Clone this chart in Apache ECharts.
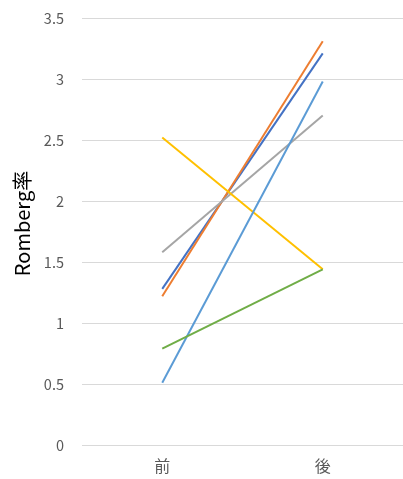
<!DOCTYPE html>
<html>
<head>
<meta charset="utf-8">
<script src="https://cdn.jsdelivr.net/npm/echarts@6/dist/echarts.min.js"></script>
<style>
  html, body { margin: 0; padding: 0; background: #fff; }
  #chart { width: 403px; height: 479px; }
</style>
</head>
<body>
<div id="chart"></div>
<script>
// Before / after Romberg ratio per subject
const categories = ['前', '後'];
const subjectA = [1.28, 3.21];
const subjectB = [1.22, 3.31];
const subjectC = [1.58, 2.70];
const subjectD = [2.52, 1.44];
const subjectE = [0.51, 2.98];
const subjectF = [0.79, 1.44];

const yTicks = { min: 0, max: 3.5, interval: 0.5 };

const seriesList = [
  { data: subjectA, color: '#4472C4' },
  { data: subjectB, color: '#ED7D31' },
  { data: subjectC, color: '#A5A5A5' },
  { data: subjectD, color: '#FFC000' },
  { data: subjectE, color: '#5B9BD5' },
  { data: subjectF, color: '#70AD47' }
];

const font = '"Noto Sans CJK JP", "Noto Sans", sans-serif';
const chart = echarts.init(document.getElementById('chart'));
chart.setOption({
  animation: false,
  grid: { left: 82, right: -3, top: 18, bottom: 34 },
  xAxis: {
    type: 'category',
    data: categories,
    boundaryGap: true,
    axisLine: { show: false },
    axisTick: { show: false },
    axisLabel: { color: '#595959', fontSize: 16, fontFamily: font, margin: 13 }
  },
  yAxis: {
    type: 'value',
    min: yTicks.min,
    max: yTicks.max,
    interval: yTicks.interval,
    name: 'Romberg率',
    nameLocation: 'middle',
    nameGap: 50,
    nameTextStyle: { color: '#000', fontSize: 20, fontFamily: font, padding: [0, 0, 0, 16] },
    axisLine: { show: false },
    axisTick: { show: false },
    axisLabel: { color: '#595959', fontSize: 14.5, fontFamily: font, margin: 18 },
    splitLine: { lineStyle: { color: '#D9D9D9', width: 1 } }
  },
  series: seriesList.map(s => ({
    type: 'line',
    data: s.data,
    symbol: 'none',
    lineStyle: { color: s.color, width: 2 },
    itemStyle: { color: s.color }
  }))
});
</script>
</body>
</html>
